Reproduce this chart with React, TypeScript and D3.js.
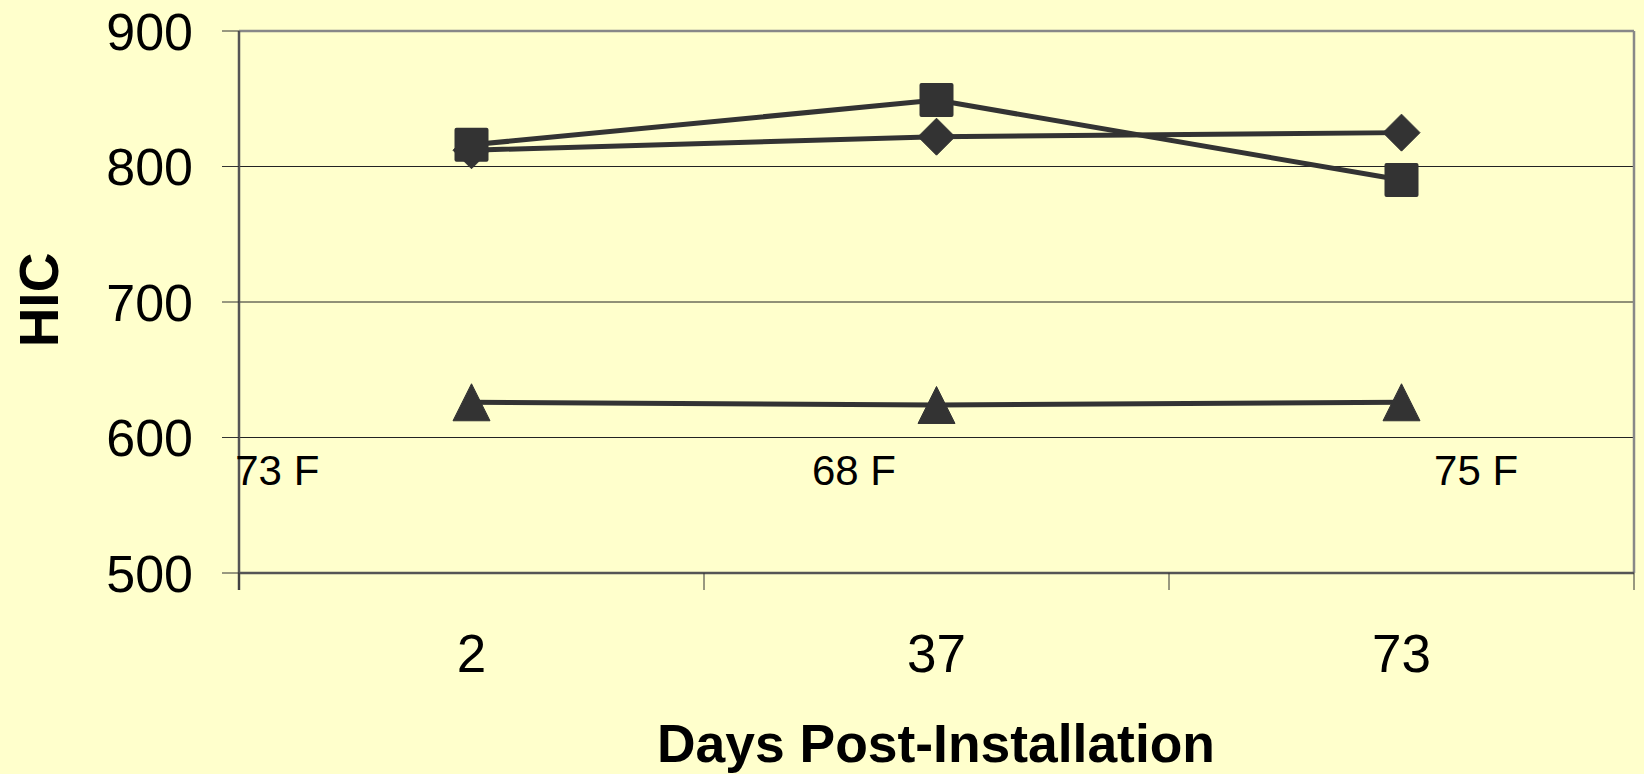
import React from "react";
import * as d3 from "d3";

const categories = ["2", "37", "73"];
const diamondSeries = [812, 822, 825];
const squareSeries = [816, 849, 790];
const triangleSeries = [626, 624, 626];
const yTicks = [500, 600, 700, 800, 900];
const gridValues = [600, 700, 800];
const tempLabels = ["73 F", "68 F", "75 F"];
const tempLabelPos = [-0.008, 1.232, 2.57]; // in category units from left edge
const tempLabelValue = 565;

const W = 1644;
const H = 774;
const plot = { left: 239, right: 1634, top: 31, bottom: 573 };
const BG = "#FFFFCC";
const INK = "#333333";
const FONT = "'Liberation Sans', Arial, sans-serif";

export default function App() {
  const x = d3.scaleBand<string>().domain(categories).range([plot.left, plot.right]).padding(0);
  const xu = d3.scaleLinear().domain([0, categories.length]).range([plot.left, plot.right]);
  const y = d3.scaleLinear().domain([500, 900]).range([plot.bottom, plot.top]);
  const cx = (c: string) => (x(c) as number) + x.bandwidth() / 2;

  const line = d3
    .line<number>()
    .x((_, i) => cx(categories[i]))
    .y((v) => y(v));

  const tri = (px: number, py: number) =>
    d3.line()([
      [px, py - 18.5],
      [px + 18.5, py + 18.5],
      [px - 18.5, py + 18.5],
    ]) + "Z";
  const dia = (px: number, py: number) =>
    d3.line()([
      [px, py - 18.5],
      [px + 18.5, py],
      [px, py + 18.5],
      [px - 18.5, py],
    ]) + "Z";

  const boundaries = d3.range(categories.length + 1).map((i) => xu(i));

  return (
    <svg
      width={W}
      height={H}
      style={{ position: "absolute", left: 0, top: 0, background: BG }}
      fontFamily={FONT}
    >
      <rect x={0} y={0} width={W} height={H} fill={BG} />
      {/* gridlines */}
      {gridValues.map((v) => (
        <line key={v} x1={plot.left} x2={plot.right} y1={y(v)} y2={y(v)} stroke="#222" strokeWidth={1} />
      ))}
      {/* border top/right */}
      <line x1={plot.left} x2={plot.right} y1={y(900)} y2={y(900)} stroke="#888" strokeWidth={2.5} />
      <line x1={plot.right} x2={plot.right} y1={plot.top} y2={plot.bottom} stroke="#888" strokeWidth={2.5} />
      {/* axes */}
      <line x1={plot.left} x2={plot.left} y1={plot.top} y2={plot.bottom + 17} stroke="#555" strokeWidth={2.5} />
      <line x1={plot.left} x2={plot.right} y1={plot.bottom} y2={plot.bottom} stroke="#555" strokeWidth={2.5} />
      {yTicks.map((v) => (
        <g key={v}>
          <line x1={plot.left - 17} x2={plot.left} y1={y(v)} y2={y(v)} stroke="#333" strokeWidth={1} />
          <text x={193} y={y(v)} dy="0.36em" textAnchor="end" fontSize={52} fill="#000">
            {v}
          </text>
        </g>
      ))}
      {boundaries.map((bx, i) => (
        <line key={i} x1={bx} x2={bx} y1={plot.bottom} y2={plot.bottom + 17} stroke="#333" strokeWidth={1} />
      ))}
      {categories.map((c) => (
        <text key={c} x={cx(c)} y={672} textAnchor="middle" fontSize={53} fill="#000">
          {c}
        </text>
      ))}
      {/* temperature annotations */}
      {tempLabels.map((t, i) => (
        <text key={t} x={xu(tempLabelPos[i])} y={y(tempLabelValue)} fontSize={42} fill="#000">
          {t}
        </text>
      ))}
      {/* series */}
      <path d={line(diamondSeries) || ""} fill="none" stroke={INK} strokeWidth={5} />
      {diamondSeries.map((v, i) => (
        <path key={i} d={dia(cx(categories[i]), y(v))} fill={INK} stroke={INK} strokeWidth={1} strokeLinejoin="round" />
      ))}
      <path d={line(squareSeries) || ""} fill="none" stroke={INK} strokeWidth={5} />
      {squareSeries.map((v, i) => (
        <rect key={i} x={cx(categories[i]) - 17} y={y(v) - 17} width={34} height={34} rx={2} fill={INK} />
      ))}
      <path d={line(triangleSeries) || ""} fill="none" stroke={INK} strokeWidth={5} />
      {triangleSeries.map((v, i) => (
        <path key={i} d={tri(cx(categories[i]), y(v))} fill={INK} stroke={INK} strokeWidth={1} strokeLinejoin="round" />
      ))}
      {/* axis titles */}
      <text
        transform={`translate(58, 300) rotate(-90)`}
        textAnchor="middle"
        fontSize={55}
        fontWeight="bold"
        fill="#000"
      >
        HIC
      </text>
      <text
        x={936}
        y={762}
        textAnchor="middle"
        fontSize={54}
        fontWeight="bold"
        fill="#000"
        textLength={558}
        lengthAdjust="spacingAndGlyphs"
      >
        Days Post-Installation
      </text>
    </svg>
  );
}
